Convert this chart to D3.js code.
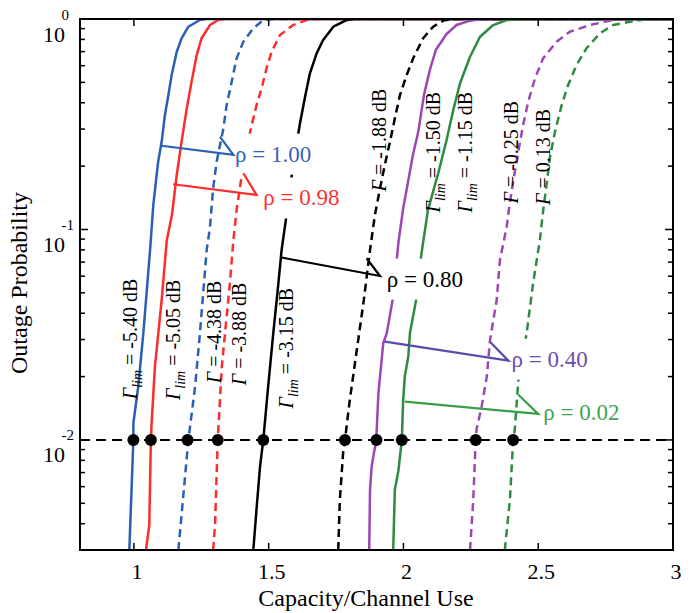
<!DOCTYPE html>
<html><head><meta charset="utf-8">
<script src="https://cdn.jsdelivr.net/npm/d3@7"></script>
<style>
body{margin:0;background:#fff;}
</style>
</head><body>
<svg id="chart" width="694" height="613" font-family="'Liberation Serif', 'DejaVu Serif', 'Times New Roman', serif"></svg>
<script>
// ---------- data ----------
const xTicks = [1, 1.5, 2, 2.5, 3];
const xTickLabels = ["1", "1.5", "2", "2.5", "3"];
const yTickExps = [0, -1, -2];
const yMinorTicks = [0.003,0.004,0.005,0.006,0.007,0.008,0.009,
                     0.02,0.03,0.04,0.05,0.06,0.07,0.08,0.09,
                     0.2,0.3,0.4,0.5,0.6,0.7,0.8,0.9];
const outageTarget = 0.01;

// [capacity, outage probability]
const blueSolid = [[0.983,0.003],[0.998,0.01],[0.998,0.012],[1.016,0.0179],[1.035,0.0322],[1.060,0.080],[1.072,0.131],[1.090,0.210],[1.103,0.261],[1.115,0.350],[1.128,0.435],[1.140,0.542],[1.159,0.699],[1.177,0.810],[1.202,0.919],[1.245,0.989],[1.27,1],[3,1]];
const redSolid = [[1.045,0.003],[1.057,0.00395],[1.063,0.01],[1.065,0.0116],[1.078,0.0223],[1.103,0.0463],[1.122,0.089],[1.141,0.117],[1.159,0.182],[1.177,0.262],[1.196,0.376],[1.214,0.504],[1.233,0.674],[1.251,0.810],[1.282,0.936],[1.313,0.989],[1.34,1],[3,1]];
const blueDashed = [[1.165,0.003],[1.202,0.01],[1.227,0.0179],[1.245,0.0322],[1.270,0.080],[1.282,0.102],[1.294,0.157],[1.307,0.210],[1.332,0.302],[1.344,0.390],[1.363,0.504],[1.381,0.650],[1.406,0.780],[1.443,0.903],[1.480,0.989],[1.52,1],[3,1]];
const redDashed = [[1.294,0.003],[1.301,0.00395],[1.311,0.01],[1.326,0.0222],[1.338,0.0321],[1.356,0.0555],[1.369,0.089],[1.381,0.124],[1.400,0.180],[1.420,0.250],[1.437,0.314],[1.455,0.390],[1.474,0.469],[1.492,0.583],[1.511,0.699],[1.542,0.839],[1.591,0.936],[1.641,0.989],[1.68,1],[3,1]];
const blackSolid = [[1.443,0.003],[1.455,0.0047],[1.468,0.0075],[1.480,0.01],[1.498,0.0179],[1.517,0.0321],[1.536,0.0554],[1.548,0.080],[1.567,0.119],[1.590,0.200],[1.616,0.319],[1.635,0.427],[1.653,0.552],[1.678,0.687],[1.702,0.795],[1.740,0.919],[1.789,0.989],[1.82,1],[3,1]];
const blackDashed = [[1.758,0.003],[1.764,0.0052],[1.777,0.0090],[1.783,0.01],[1.801,0.0155],[1.827,0.0268],[1.853,0.0463],[1.876,0.080],[1.894,0.117],[1.913,0.157],[1.931,0.203],[1.950,0.261],[1.968,0.337],[1.987,0.435],[2.012,0.542],[2.036,0.650],[2.073,0.810],[2.110,0.919],[2.15,0.985],[2.19,1],[3,1]];
const purpleSolid = [[1.873,0.003],[1.876,0.0058],[1.882,0.0075],[1.899,0.01],[1.907,0.0166],[1.925,0.0288],[1.938,0.0321],[1.962,0.0480],[1.981,0.0860],[1.999,0.126],[2.017,0.168],[2.035,0.226],[2.055,0.291],[2.076,0.435],[2.098,0.573],[2.120,0.712],[2.160,0.849],[2.197,0.936],[2.247,0.982],[2.29,1],[3,1]];
const greenSolid = [[1.962,0.003],[1.968,0.0058],[1.981,0.0071],[1.994,0.01],[1.999,0.0155],[2.005,0.0200],[2.018,0.0249],[2.024,0.0321],[2.049,0.0478],[2.067,0.0771],[2.091,0.124],[2.129,0.185],[2.160,0.266],[2.185,0.370],[2.210,0.495],[2.247,0.662],[2.284,0.824],[2.333,0.936],[2.383,0.989],[2.48,1],[3,1]];
const purpleDashed = [[2.247,0.003],[2.259,0.0052],[2.268,0.01],[2.271,0.0112],[2.290,0.0144],[2.309,0.0199],[2.321,0.0297],[2.346,0.0463],[2.358,0.0717],[2.383,0.103],[2.391,0.124],[2.407,0.169],[2.426,0.234],[2.444,0.314],[2.463,0.405],[2.488,0.522],[2.518,0.650],[2.568,0.780],[2.617,0.870],[2.692,0.936],[2.78,0.99],[2.81,1],[3,1]];
const greenDashed = [[2.376,0.003],[2.395,0.0052],[2.407,0.01],[2.413,0.0112],[2.426,0.0190],[2.457,0.0321],[2.481,0.0555],[2.506,0.089],[2.518,0.122],[2.531,0.163],[2.543,0.218],[2.562,0.291],[2.587,0.390],[2.611,0.486],[2.642,0.604],[2.679,0.726],[2.729,0.855],[2.778,0.936],[2.840,0.971],[2.91,1],[3,1]];

// capacity where each curve crosses 1e-2
const dotCapacity = [0.998, 1.063, 1.199, 1.311, 1.480, 1.783, 1.900, 1.994, 2.268, 2.407];

// rho labels: text, label anchor [C,P] (baseline start), arrow from, arrow to, barb end
const rhoTexts = ["ρ = 1.00", "ρ = 0.98", "ρ = 0.80", "ρ = 0.40", "ρ = 0.02"];
const rhoLabelPos = [[1.375,0.210],[1.480,0.130],[1.938,0.0535],[2.401,0.0223],[2.519,0.0125]];
const rhoArrowFrom = [[1.103,0.250],[1.146,0.164],[1.542,0.0738],[1.931,0.0293],[2.005,0.0152]];
const rhoArrowTo = [[1.369,0.226],[1.455,0.146],[1.913,0.0601],[2.389,0.0238],[2.500,0.0133]];
const rhoBarbEnd = [[1.319,0.276],[1.406,0.185],[1.863,0.0730],[2.321,0.0293],[2.426,0.0164]];

// Gamma labels: subscript flag, value text, anchor [C (baseline), P (center)]
const gammaSub = [true, true, false, false, true, false, true, true, false, false];
const gammaValues = ["-5.40 dB","-5.05 dB","-4.38 dB","-3.88 dB","-3.15 dB","-1.88 dB","-1.50 dB","-1.15 dB","-0.25 dB","0.13 dB"];
const gammaPos = [[1.011,0.0302],[1.171,0.0299],[1.323,0.0326],[1.416,0.0319],[1.590,0.0273],[1.935,0.266],[2.135,0.233],[2.254,0.233],[2.425,0.233],[2.543,0.221]];

// ---------- styling ----------
const C = {blue:"#2b5fb4", red:"#ff2a2a", black:"#000000", purple:"#9d47b4", green:"#2e8b41"};
const series = [
  {data: blueSolid, color: C.blue, dash: null},
  {data: redSolid, color: C.red, dash: null},
  {data: blueDashed, color: C.blue, dash: "8,5"},
  {data: redDashed, color: C.red, dash: "8,5"},
  {data: blackSolid, color: C.black, dash: null},
  {data: blackDashed, color: C.black, dash: "8,5"},
  {data: purpleSolid, color: C.purple, dash: null},
  {data: greenSolid, color: C.green, dash: null},
  {data: purpleDashed, color: C.purple, dash: "8,5"},
  {data: greenDashed, color: C.green, dash: "8,5"}
];
const rhoTextColors = ["#3764b4", "#ff3030", "#000000", "#6f4cae", "#3fa552"];
const rhoArrowColors = ["#2b5fb4", "#ff2a2a", "#000000", "#5a4aaa", "#36a046"];

// ---------- layout ----------
const L = 80, R = 673, T = 19, B = 550;
const svg = d3.select("#chart");
const x = d3.scaleLinear().domain([0.8, 3]).range([L, R]);
const y = d3.scaleLog().domain([0.003, 1]).range([B, T]);

svg.append("defs").append("clipPath").attr("id","clip")
  .append("rect").attr("x",L).attr("y",T).attr("width",R-L).attr("height",B-T);

const plot = svg.append("g").attr("clip-path","url(#clip)");
const line = d3.line().x(d=>x(d[0])).y(d=>y(d[1]));

plot.selectAll("path.curve").data(series).join("path")
  .attr("class","curve")
  .attr("d", d=>line(d.data))
  .attr("fill","none")
  .attr("stroke", d=>d.color)
  .attr("stroke-width", 2.5)
  .attr("stroke-dasharray", d=>d.dash)
  .attr("stroke-linejoin","round");

// horizontal target line
plot.append("line")
  .attr("x1", x(0.8)).attr("x2", x(3))
  .attr("y1", y(outageTarget)).attr("y2", y(outageTarget))
  .attr("stroke","#000").attr("stroke-width",2).attr("stroke-dasharray","10,6");

plot.selectAll("circle.dot").data(dotCapacity).join("circle")
  .attr("class","dot")
  .attr("cx", d=>x(d)).attr("cy", y(outageTarget)).attr("r", 6).attr("fill","#000");

// rho labels with white boxes
const rhoG = svg.append("g");
rhoTexts.forEach((t,i)=>{
  const g = rhoG.append("g");
  const rect = g.append("rect").attr("fill","#fff");
  const txt = g.append("text")
    .attr("x", x(rhoLabelPos[i][0])).attr("y", y(rhoLabelPos[i][1]))
    .attr("font-size", 23).attr("fill", rhoTextColors[i]).text(t);
  const bb = txt.node().getBBox();
  rect.attr("x", bb.x-4).attr("y", bb.y-8).attr("width", bb.width+8).attr("height", bb.height+16);
});
// arrows
rhoTexts.forEach((t,i)=>{
  rhoG.append("path")
    .attr("d", `M${x(rhoArrowFrom[i][0])},${y(rhoArrowFrom[i][1])}L${x(rhoArrowTo[i][0])},${y(rhoArrowTo[i][1])}L${x(rhoBarbEnd[i][0])},${y(rhoBarbEnd[i][1])}`)
    .attr("fill","none").attr("stroke", rhoArrowColors[i]).attr("stroke-width", 2.2)
    .attr("stroke-linejoin","miter");
});

// gamma labels
const gG = svg.append("g");
gammaValues.forEach((v,i)=>{
  const t = gG.append("text")
    .attr("transform", `translate(${x(gammaPos[i][0])},${y(gammaPos[i][1])}) rotate(-90)`)
    .attr("text-anchor","middle").attr("font-size", 20).attr("fill","#000");
  t.append("tspan").attr("font-style","italic").text("Γ");
  if (gammaSub[i]) {
    t.append("tspan").attr("font-style","italic").attr("font-size",14).attr("dy",5).text("lim");
    t.append("tspan").attr("dy",-5).text(" = " + v);
  } else {
    t.append("tspan").text(" = " + v);
  }
});

// ---------- axes ----------
const ax = svg.append("g");
ax.append("rect").attr("x",L).attr("y",T).attr("width",R-L).attr("height",B-T)
  .attr("fill","none").attr("stroke","#000").attr("stroke-width",2);

xTicks.forEach((v,i)=>{
  ax.append("line").attr("x1",x(v)).attr("x2",x(v)).attr("y1",B).attr("y2",B-7).attr("stroke","#000").attr("stroke-width",1.5);
  ax.append("line").attr("x1",x(v)).attr("x2",x(v)).attr("y1",T).attr("y2",T+7).attr("stroke","#000").attr("stroke-width",1.5);
  ax.append("text").attr("x",x(v)+3).attr("y",579).attr("text-anchor","middle").attr("font-size",22).text(xTickLabels[i]);
});
yTickExps.forEach(e=>{
  const v = Math.pow(10,e);
  ax.append("line").attr("x1",L).attr("x2",L+8).attr("y1",y(v)).attr("y2",y(v)).attr("stroke","#000").attr("stroke-width",1.5);
  ax.append("line").attr("x1",R).attr("x2",R-8).attr("y1",y(v)).attr("y2",y(v)).attr("stroke","#000").attr("stroke-width",1.5);
  ax.append("text").attr("x",65).attr("y",y(v)+22.5).attr("text-anchor","end").attr("font-size",22).text("10");
  ax.append("text").attr("x",61.5).attr("y",y(v)+0.5).attr("text-anchor","start").attr("font-size",15).text(String(e));
});
yMinorTicks.forEach(v=>{
  ax.append("line").attr("x1",L).attr("x2",L+5).attr("y1",y(v)).attr("y2",y(v)).attr("stroke","#000").attr("stroke-width",1.5);
  ax.append("line").attr("x1",R).attr("x2",R-5).attr("y1",y(v)).attr("y2",y(v)).attr("stroke","#000").attr("stroke-width",1.5);
});

ax.append("text").attr("x",366).attr("y",606).attr("text-anchor","middle").attr("font-size",24).text("Capacity/Channel Use");
ax.append("text").attr("transform","translate(27,283) rotate(-90)").attr("text-anchor","middle").attr("font-size",24).text("Outage Probability");
</script>
</body></html>
